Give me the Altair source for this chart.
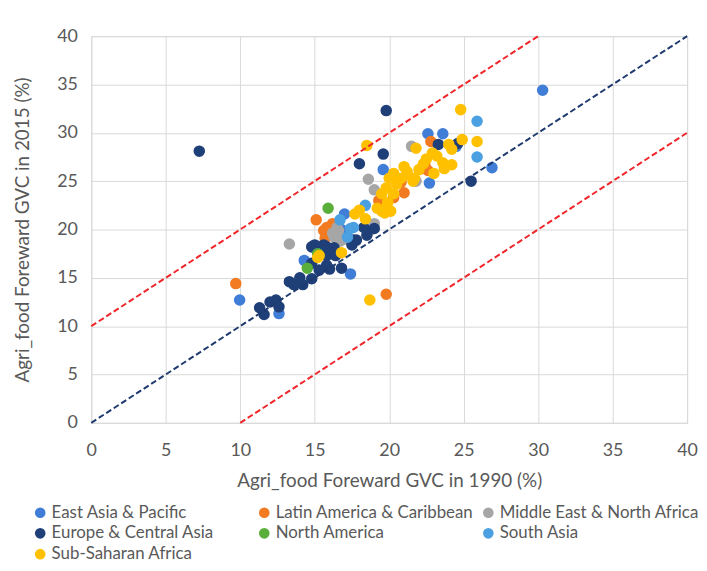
import altair as alt
import pandas as pd

regions = ["East Asia & Pacific", "Latin America & Caribbean", "Middle East & North Africa",
           "Europe & Central Asia", "North America", "South Asia", "Sub-Saharan Africa"]
colors = ["#3F7DD6", "#F27B21", "#A6A6A6", "#1F3F78", "#5AAE3A", "#4AA0E0", "#FFC000"]

eap_x = [30.3, 9.96, 12.6, 14.3, 17.4, 19.6, 22.6, 23.6, 26.9, 22.7, 17.0, 24.5, 16.8]
eap_y = [34.4, 12.7, 11.3, 16.8, 15.4, 26.2, 29.9, 29.9, 26.4, 24.8, 21.6, 28.6, 20.0]

lac_x = [9.7, 19.8, 15.1, 20.3, 19.3, 15.6, 15.7, 15.8, 22.8, 22.4, 22.6, 16.2, 21.0, 20.8, 22.2]
lac_y = [14.4, 13.3, 21.0, 23.3, 23.0, 19.9, 19.1, 20.2, 29.1, 26.6, 26.1, 20.6, 23.8, 24.9, 26.3]

mena_x = [13.3, 18.6, 19.0, 16.5, 16.2, 16.6, 19.0, 21.5, 17.0, 16.7, 16.3, 18.7, 21.8]
mena_y = [18.5, 25.2, 24.1, 20.2, 19.6, 19.9, 20.6, 28.6, 19.0, 18.8, 19.2, 19.9, 25.0]

eca_x = [7.25, 19.8, 25.5, 18.0, 19.6, 11.3, 11.6, 12.0, 12.4, 12.6, 13.3, 13.6, 14.2, 14.8,
         14.8, 14.8, 15.8, 15.8, 15.6, 16.4, 16.8, 16.3, 17.8, 18.5, 19.0, 15.0, 15.8, 23.3,
         24.6, 17.5, 18.3, 14.0, 15.3, 16.0, 17.6]
eca_y = [28.1, 32.3, 25.0, 26.8, 27.8, 11.9, 11.2, 12.5, 12.7, 12.0, 14.6, 14.3, 14.3, 14.9,
         16.5, 18.2, 17.3, 16.3, 18.4, 17.3, 16.0, 18.1, 18.9, 19.4, 20.1, 18.4, 18.2, 28.8,
         28.9, 18.4, 20.2, 15.0, 15.8, 15.9, 18.9]

na_x = [15.9, 14.5, 15.2]
na_y = [22.2, 16.0, 17.5]

sa_x = [25.9, 25.9, 18.4, 17.2, 17.4, 17.6, 16.7]
sa_y = [31.2, 27.5, 22.5, 19.2, 20.1, 20.2, 21.0]

ssa_x = [18.7, 18.5, 24.8, 24.9, 25.9, 21.8, 22.9, 24.0, 24.2, 23.6, 23.7, 23.0, 22.3, 21.2,
         20.8, 21.7, 20.0, 20.5, 21.2, 21.6, 19.8, 20.3, 19.5, 17.7, 18.4, 19.2, 19.7, 19.5,
         19.8, 16.8, 15.3, 15.2, 22.5, 21.0, 20.3, 19.9, 18.0, 20.1, 22.0, 23.2, 24.2]
ssa_y = [12.7, 28.7, 32.4, 29.3, 29.1, 28.4, 27.9, 28.8, 28.3, 26.9, 26.3, 25.8, 26.8, 26.0,
         25.3, 25.3, 25.3, 24.7, 25.7, 25.0, 24.3, 23.7, 23.7, 21.6, 21.1, 22.2, 21.7, 21.9,
         22.3, 17.6, 17.3, 17.1, 27.3, 26.5, 25.8, 22.8, 22.0, 21.9, 26.2, 27.6, 26.7]

series_x = [eap_x, lac_x, mena_x, eca_x, na_x, sa_x, ssa_x]
series_y = [eap_y, lac_y, mena_y, eca_y, na_y, sa_y, ssa_y]

rows = []
for i, (r, xs, ys) in enumerate(zip(regions, series_x, series_y)):
    for x, y in zip(xs, ys):
        rows.append({"region": r, "x": x, "y": y, "ord": i})
df = pd.DataFrame(rows)

line_name = ["diag", "diag", "upper", "upper", "lower", "lower"]
line_x = [0, 40, 0, 30, 10, 40]
line_y = [0, 40, 10, 40, 0, 30]
lines = pd.DataFrame({"line": line_name, "x": line_x, "y": line_y})

FONT = "Lato"
xsc = alt.Scale(domain=[0, 40], nice=False)
ysc = alt.Scale(domain=[0, 40], nice=False)

points = alt.Chart(df).mark_circle(size=135, opacity=1).encode(
    x=alt.X("x:Q", scale=xsc, title="Agri_food Foreward GVC in 1990 (%)",
            axis=alt.Axis(values=list(range(0, 41, 5)))),
    y=alt.Y("y:Q", scale=ysc, title="Agri_food Foreward GVC in 2015 (%)",
            axis=alt.Axis(values=list(range(0, 41, 5)))),
    color=alt.Color("region:N", scale=alt.Scale(domain=regions, range=colors),
                    legend=alt.Legend(title=None, orient="none", legendX=-60, legendY=472,
                                      direction="horizontal",
                                      columns=3, gridAlign="all", columnPadding=5,
                                      rowPadding=3, symbolType="circle", symbolSize=115,
                                      labelFontSize=17, labelColor="#595959", labelFont=FONT,
                                      labelLimit=300, labelOffset=3, symbolOpacity=1)),
    order=alt.Order("ord:Q"),
)

ln = alt.Chart(lines).mark_line(strokeDash=[6, 3], strokeWidth=2).encode(
    x=alt.X("x:Q", scale=xsc),
    y=alt.Y("y:Q", scale=ysc),
    detail="line:N",
    color=alt.Color("line:N", scale=alt.Scale(domain=["diag", "upper", "lower"],
                                              range=["#1F3A6E", "#F0262A", "#F0262A"]),
                    legend=None),
)

chart = alt.layer(points, ln).resolve_scale(color="independent").properties(
    width=601, height=390,
    autosize=alt.AutoSizeParams(type="none"),
    padding={"left": 84, "top": 26, "right": 12, "bottom": 138},
).configure_view(stroke="#D9D9D9", strokeWidth=1).configure_axis(
    grid=True, gridColor="#D9D9D9", gridWidth=1, domain=False, ticks=False,
    labelFlush=False,
    labelFont=FONT, labelFontSize=18, labelColor="#595959",
    titleFont=FONT, titleFontSize=19, titleColor="#595959", titleFontWeight="normal",
).configure_axisX(labelPadding=19, titlePadding=12).configure_axisY(
    labelPadding=14, titlePadding=24)

chart.save("out.html", embed_options={"renderer": "svg", "actions": False})
